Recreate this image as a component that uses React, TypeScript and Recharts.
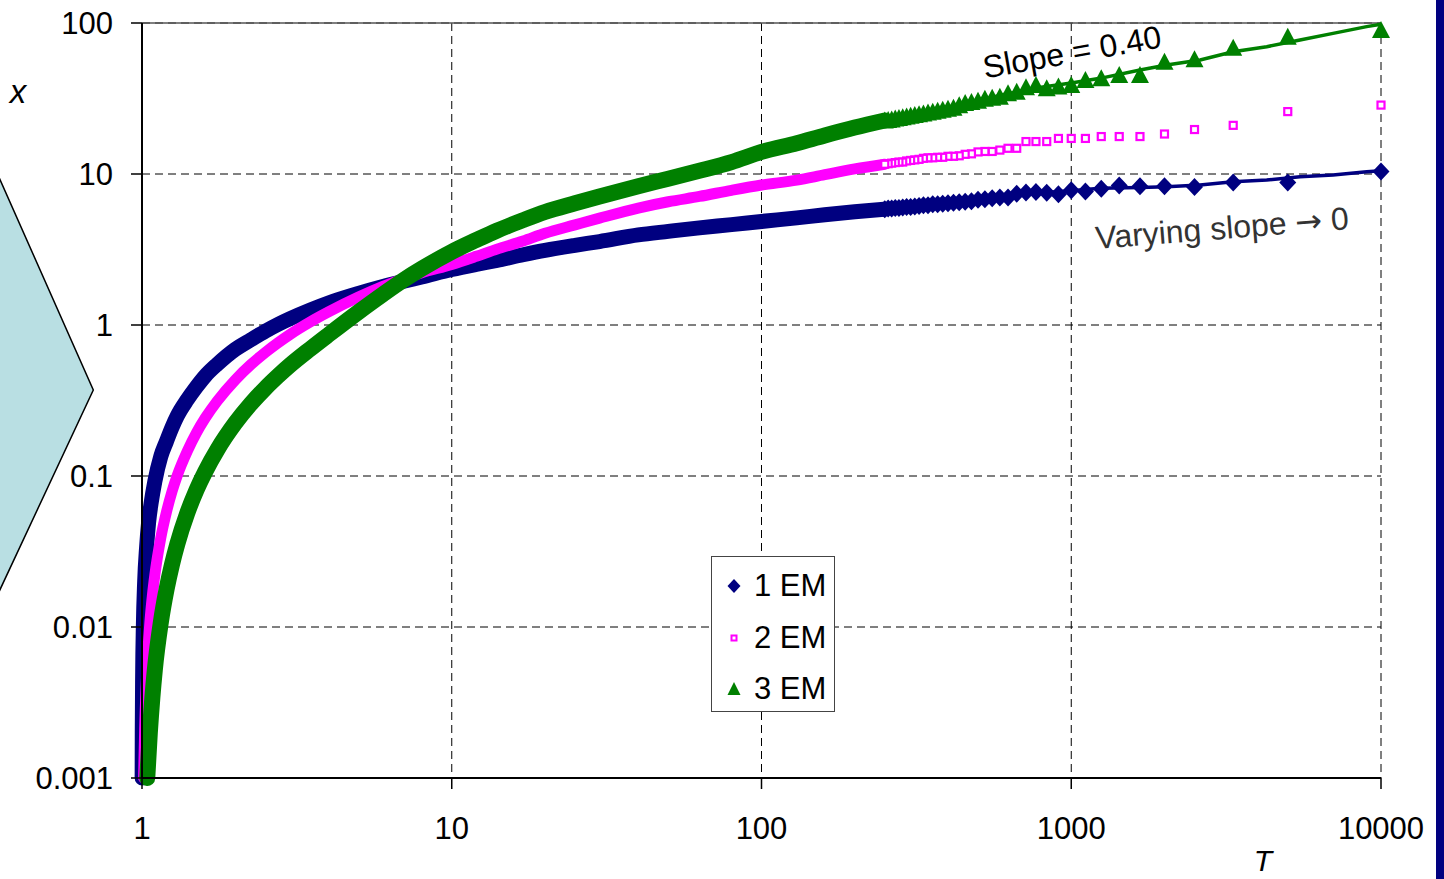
import { ComposedChart, Line, XAxis, YAxis, CartesianGrid, Legend, ReferenceLine } from "recharts";

// x versus T for 1, 2 and 3 EM, log-log
const FONT = '"Liberation Sans", Arial, sans-serif';
const NAVY = "#000080";
const PINK = "#ff00ff";
const GREEN = "#008000";

const xTicks = [1, 10, 100, 1000, 10000];
const yTicks = [0.001, 0.01, 0.1, 1, 10, 100];
const seriesNames = ["1 EM", "2 EM", "3 EM"];

// dense part of each run: markers overlap into a solid band
const band1T = [1.001, 1.002, 1.005, 1.01, 1.02, 1.035, 1.05, 1.07, 1.1, 1.15, 1.2, 1.25, 1.3, 1.4, 1.5, 1.6, 1.75, 2, 2.25, 2.5, 2.75, 3, 3.5, 4, 5, 6, 7, 8, 10, 12, 14, 17, 20, 25, 30, 40, 50, 63, 80, 100, 130, 160, 200, 250];
const band1X = [0.001, 0.002, 0.005, 0.01, 0.02, 0.034, 0.049, 0.066, 0.092, 0.135, 0.17, 0.21, 0.25, 0.32, 0.39, 0.46, 0.55, 0.69, 0.8, 0.91, 1.01, 1.1, 1.26, 1.4, 1.62, 1.8, 1.95, 2.08, 2.33, 2.52, 2.68, 2.92, 3.12, 3.37, 3.57, 3.95, 4.17, 4.4, 4.62, 4.85, 5.12, 5.37, 5.62, 5.85];

const band2T = [1.012, 1.02, 1.03, 1.045, 1.06, 1.08, 1.1, 1.15, 1.2, 1.25, 1.3, 1.4, 1.5, 1.6, 1.75, 2, 2.25, 2.5, 2.75, 3, 3.5, 4, 5, 6, 7, 8, 10, 12, 14, 17, 20, 25, 30, 40, 50, 63, 80, 100, 130, 160, 200, 250];
const band2X = [0.001, 0.0021, 0.0038, 0.0069, 0.0106, 0.016, 0.022, 0.039, 0.058, 0.079, 0.101, 0.146, 0.194, 0.242, 0.314, 0.433, 0.548, 0.658, 0.763, 0.864, 1.05, 1.22, 1.53, 1.8, 2.03, 2.22, 2.52, 2.85, 3.18, 3.6, 4.05, 4.6, 5.1, 5.95, 6.55, 7.1, 7.8, 8.45, 9.1, 9.9, 10.8, 11.6];

const band3T = [1.04, 1.06, 1.08, 1.1, 1.15, 1.2, 1.25, 1.3, 1.4, 1.5, 1.6, 1.75, 2, 2.25, 2.5, 2.75, 3, 3.5, 4, 5, 6, 7, 8, 10, 12, 14, 17, 20, 25, 30, 40, 50, 63, 80, 100, 130, 160, 200, 250];
const band3X = [0.001, 0.002, 0.0034, 0.0052, 0.0107, 0.0177, 0.026, 0.0354, 0.0568, 0.081, 0.107, 0.149, 0.224, 0.302, 0.381, 0.46, 0.54, 0.697, 0.862, 1.22, 1.6, 1.99, 2.36, 3.05, 3.65, 4.22, 4.95, 5.6, 6.4, 7.1, 8.3, 9.3, 10.5, 12.0, 14.0, 16.0, 18.0, 20.3, 22.6];

// sparse tail, one marker per sample
const tailT = [10000, 5000, 3333.3, 2500, 2000, 1666.7, 1428.6, 1250, 1111.1, 1000, 909.1, 833.3, 769.2, 714.3, 666.7, 625, 588.2, 555.6, 526.3, 500, 476.2, 454.5, 434.8, 416.7, 400, 384.6, 370.4, 357.1, 344.8, 333.3, 322.6, 312.5, 303.0, 294.1, 285.7, 277.8, 270.3, 263.2, 256.4, 250];
const tail1X = [10.4, 8.8, 8.8, 8.2, 8.3, 8.3, 8.4, 8.0, 7.65, 7.8, 7.35, 7.5, 7.6, 7.55, 7.4, 7.0, 7.0, 6.9, 6.8, 6.75, 6.6, 6.55, 6.5, 6.45, 6.4, 6.35, 6.3, 6.3, 6.2, 6.2, 6.15, 6.1, 6.05, 6.05, 6.0, 5.95, 5.95, 5.9, 5.9, 5.85];
const tail2X = [28.6, 25.9, 21.0, 19.7, 18.4, 17.7, 17.7, 17.7, 17.2, 17.2, 17.2, 16.4, 16.4, 16.4, 14.8, 14.8, 14.4, 14.1, 14.1, 14.0, 13.6, 13.5, 13.2, 13.1, 13.1, 12.9, 12.9, 12.8, 12.8, 12.7, 12.5, 12.4, 12.3, 12.2, 12.0, 12.0, 11.9, 11.8, 11.7, 11.6];
const tail3X = [90, 81, 68.6, 57.5, 55.4, 45.3, 45.3, 43.0, 41.9, 38.8, 38.0, 37.0, 38.8, 37.5, 35.1, 34.3, 32.5, 32.0, 31.5, 30.5, 30.0, 29.5, 28.5, 27.5, 27.0, 26.6, 26.2, 25.8, 25.5, 25.2, 24.9, 24.6, 24.3, 24.0, 23.8, 23.5, 23.3, 23.0, 22.8, 22.6];

// thin connecting lines for 1 EM and 3 EM
const line1T = [400, 600, 800, 1000, 1239, 1667, 2032, 2606, 3327, 4276, 5476, 7000, 8990, 10000];
const line1X = [6.4, 7.0, 7.5, 7.75, 8.04, 8.15, 8.24, 8.46, 8.9, 9.12, 9.6, 9.84, 10.35, 10.5];
const line3T = [400, 600, 800, 1000, 1239, 1667, 2032, 2606, 3327, 4276, 5476, 7000, 8990, 10000];
const line3X = [27, 33.5, 37.5, 40, 43, 48.9, 52.7, 56.9, 64.5, 69.7, 77.2, 85.4, 94.6, 98];

const pts = (ts: number[], xs: number[]) => ts.map((t, i) => ({ t, x: xs[i] }));

const diamond = (p: any) => {
  const { cx, cy, index } = p;
  if (cx == null || cy == null) return <g key={index} />;
  return (
    <path
      key={index}
      d={`M${cx} ${cy - 9}L${cx + 8.5} ${cy}L${cx} ${cy + 9}L${cx - 8.5} ${cy}Z`}
      fill={NAVY}
    />
  );
};

const square = (p: any) => {
  const { cx, cy, index } = p;
  if (cx == null || cy == null) return <g key={index} />;
  return (
    <rect key={index} x={cx - 3.5} y={cy - 3.5} width={7} height={7} fill="#fff" stroke={PINK} strokeWidth={2.2} />
  );
};

const triangle = (p: any) => {
  const { cx, cy, index } = p;
  if (cx == null || cy == null) return <g key={index} />;
  return <path key={index} d={`M${cx} ${cy - 9}L${cx + 9} ${cy + 8}L${cx - 9} ${cy + 8}Z`} fill={GREEN} />;
};

const legendMarks = [
  <path d="M22 11L28.5 18L22 25L15.5 18Z" fill={NAVY} />,
  <rect x={19.5} y={15.5} width={5} height={5} fill="#fff" stroke={PINK} strokeWidth={2} />,
  <path d="M22 11L28.5 24L15.5 24Z" fill={GREEN} />,
];

const LegendBox = () => (
  <div
    style={{
      width: 124,
      height: 156,
      boxSizing: "border-box",
      border: "1.5px solid #444",
      background: "#fff",
      position: "relative",
      fontFamily: FONT,
      fontSize: 31,
      color: "#000",
    }}
  >
    {seriesNames.map((name, i) => (
      <div
        key={name}
        style={{ position: "absolute", left: 0, top: 11 + i * 51.5, height: 36, display: "flex", alignItems: "center" }}
      >
        <svg width={42} height={36}>
          {legendMarks[i]}
        </svg>
        <span style={{ lineHeight: "36px", whiteSpace: "nowrap" }}>{name}</span>
      </div>
    ))}
  </div>
);

export default function App() {
  const tick = { fontSize: 31, fill: "#000", fontFamily: FONT };
  return (
    <div style={{ position: "absolute", left: 0, top: 0, width: 1444, height: 879, background: "#fff", overflow: "hidden" }}>
      <ComposedChart width={1444} height={879} margin={{ top: 23, right: 63, bottom: 41, left: 42 }}>
        <CartesianGrid stroke="#000" strokeDasharray="8 5" strokeWidth={1} />
        <XAxis
          type="number"
          dataKey="t"
          scale="log"
          domain={[1, 10000]}
          ticks={xTicks}
          height={60}
          tick={tick}
          tickSize={11}
          tickMargin={28}
          axisLine={{ stroke: "#000", strokeWidth: 2 }}
          tickLine={{ stroke: "#000", strokeWidth: 1.5 }}
        />
        <YAxis
          type="number"
          dataKey="x"
          scale="log"
          domain={[0.001, 100]}
          ticks={yTicks}
          width={100}
          tick={tick}
          tickSize={11}
          tickMargin={18}
          axisLine={{ stroke: "#000", strokeWidth: 2 }}
          tickLine={{ stroke: "#000", strokeWidth: 1.5 }}
        />
        <ReferenceLine y={100} stroke="#555" strokeWidth={1.5} />
        <Line data={pts(band1T, band1X)} dataKey="x" type="monotone" stroke={NAVY} strokeWidth={15} strokeLinecap="round" strokeLinejoin="round" dot={false} activeDot={false} isAnimationActive={false} legendType="none" />
        <Line data={pts(band2T, band2X)} dataKey="x" type="monotone" stroke={PINK} strokeWidth={11} strokeLinecap="round" strokeLinejoin="round" dot={false} activeDot={false} isAnimationActive={false} legendType="none" />
        <Line data={pts(band3T, band3X)} dataKey="x" type="monotone" stroke={GREEN} strokeWidth={16} strokeLinecap="round" strokeLinejoin="round" dot={false} activeDot={false} isAnimationActive={false} legendType="none" />
        <Line data={pts(line1T, line1X)} dataKey="x" type="linear" stroke={NAVY} strokeWidth={3.5} dot={false} activeDot={false} isAnimationActive={false} legendType="none" />
        <Line data={pts(tailT, tail1X)} dataKey="x" name={seriesNames[0]} stroke="none" dot={diamond} activeDot={false} isAnimationActive={false} />
        <Line data={pts(tailT, tail2X)} dataKey="x" name={seriesNames[1]} stroke="none" dot={square} activeDot={false} isAnimationActive={false} />
        <Line data={pts(line3T, line3X)} dataKey="x" type="linear" stroke={GREEN} strokeWidth={3.5} dot={false} activeDot={false} isAnimationActive={false} legendType="none" />
        <Line data={pts(tailT, tail3X)} dataKey="x" name={seriesNames[2]} stroke="none" dot={triangle} activeDot={false} isAnimationActive={false} />
        <Legend
          layout="vertical"
          align="center"
          verticalAlign="middle"
          content={() => <LegendBox />}
          wrapperStyle={{ left: 711, top: 556, width: 124, height: 156 }}
        />
      </ComposedChart>
      <svg width={1444} height={879} style={{ position: "absolute", left: 0, top: 0, pointerEvents: "none" }}>
        <polygon points="-10,157 93.3,390 -10,611" fill="#b9dfe3" stroke="#000" strokeWidth={1.5} />
        <rect x={1436} y={0} width={8} height={879} fill={NAVY} />
        <text x={18} y={103} fontFamily={FONT} fontSize={33} fontStyle="italic" textAnchor="middle" fill="#000">
          x
        </text>
        <text x={1263} y={871} fontFamily={FONT} fontSize={30} fontStyle="italic" textAnchor="middle" fill="#000">
          T
        </text>
        <text
          x={1072}
          y={52}
          fontFamily={FONT}
          fontSize={32}
          textAnchor="middle"
          dominantBaseline="central"
          fill="#000"
          transform="rotate(-10 1072 52)"
        >
          Slope = 0.40
        </text>
        <text
          x={1222}
          y={228}
          fontFamily={FONT}
          fontSize={32}
          textAnchor="middle"
          dominantBaseline="central"
          fill="#333"
          transform="rotate(-4.5 1222 228)"
        >
          Varying slope <tspan fontFamily='"DejaVu Sans", sans-serif'>→</tspan> 0
        </text>
      </svg>
    </div>
  );
}
